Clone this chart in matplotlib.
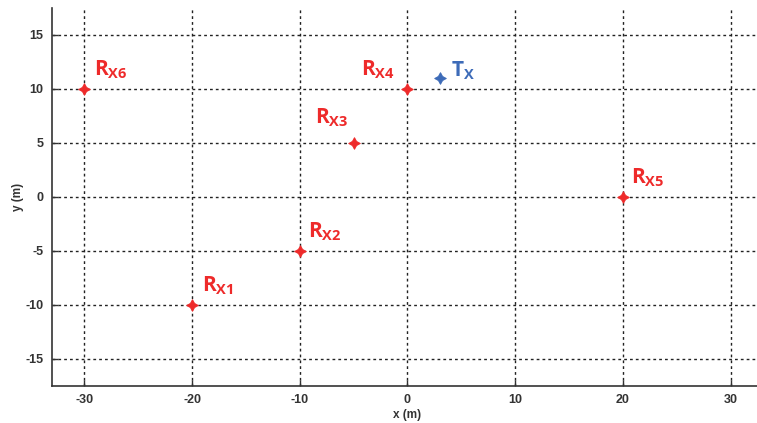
import matplotlib
matplotlib.use("Agg")
import matplotlib.pyplot as plt

# Receiver and transmitter positions (m)
rx_names = ["X1", "X2", "X3", "X4", "X5", "X6"]
rx_x = [-20, -10, -5, 0, 20, -30]
rx_y = [-10, -5, 5, 10, 0, 10]
tx_name = "X"
tx_x = [3]
tx_y = [11]

x_ticks = [-30, -20, -10, 0, 10, 20, 30]
y_ticks = [-15, -10, -5, 0, 5, 10, 15]

# label offsets in points (dx, dy) and horizontal alignment
rx_offsets = [(7, 6), (6, 6), (-28, 10), (-9, 6), (6, 6), (7, 6)]
rx_ha = ["left", "left", "left", "right", "left", "left"]

red = "#ee2a2a"
blue = "#3d6bb8"

plt.rcParams["mathtext.fontset"] = "custom"
plt.rcParams["mathtext.bf"] = "Open Sans:bold"
plt.rcParams["mathtext.rm"] = "Open Sans"
plt.rcParams["axes.unicode_minus"] = False

fig = plt.figure(figsize=(7.57, 4.23), dpi=100)
ax = fig.add_axes([0.0687, 0.0875, 0.939, 0.8936])

ax.set_xlim(-33, 33)
ax.set_ylim(-17.5, 17.5)
ax.set_xticks(x_ticks)
ax.set_yticks(y_ticks)
ax.grid(True, color="#222222", linestyle=(0, (2, 2.2)), linewidth=1.0)
ax.set_axisbelow(True)

for s in ["top", "right"]:
    ax.spines[s].set_visible(False)
for s in ["left", "bottom"]:
    ax.spines[s].set_linewidth(1.2)
    ax.spines[s].set_color("#333333")

ax.tick_params(direction="in", length=4, width=1, colors="#333333",
               labelsize=9, pad=6)
for lab in ax.get_xticklabels() + ax.get_yticklabels():
    lab.set_fontfamily("Liberation Sans")
    lab.set_fontweight("bold")
    lab.set_color("#333333")

ax.set_xlabel("x (m)", fontsize=8.5, fontweight="bold", family="Liberation Sans",
              color="#333333", labelpad=2)
ax.set_ylabel("y (m)", fontsize=8.5, fontweight="bold", family="Liberation Sans",
              color="#333333", va="center")
ax.yaxis.set_label_coords(-0.048, 0.5)

ax.plot(rx_x, rx_y, linestyle="none", marker=(4, 1, 0), markersize=8.5,
        color=red, markeredgewidth=0.6, zorder=3)
ax.plot(tx_x, tx_y, linestyle="none", marker=(4, 1, 0), markersize=8.5,
        color=blue, markeredgewidth=0.6, zorder=3)

for name, x, y, off, ha in zip(rx_names, rx_x, rx_y, rx_offsets, rx_ha):
    ax.annotate(r"$\mathbf{R_{%s}}$" % name, (x, y), xytext=off,
                textcoords="offset points", ha=ha, va="bottom",
                color=red, fontsize=15)

ax.annotate(r"$\mathbf{T_{%s}}$" % tx_name, (tx_x[0], tx_y[0]), xytext=(8, -3),
            textcoords="offset points", ha="left", va="bottom",
            color=blue, fontsize=15)

fig.savefig("out.png", dpi=100)
